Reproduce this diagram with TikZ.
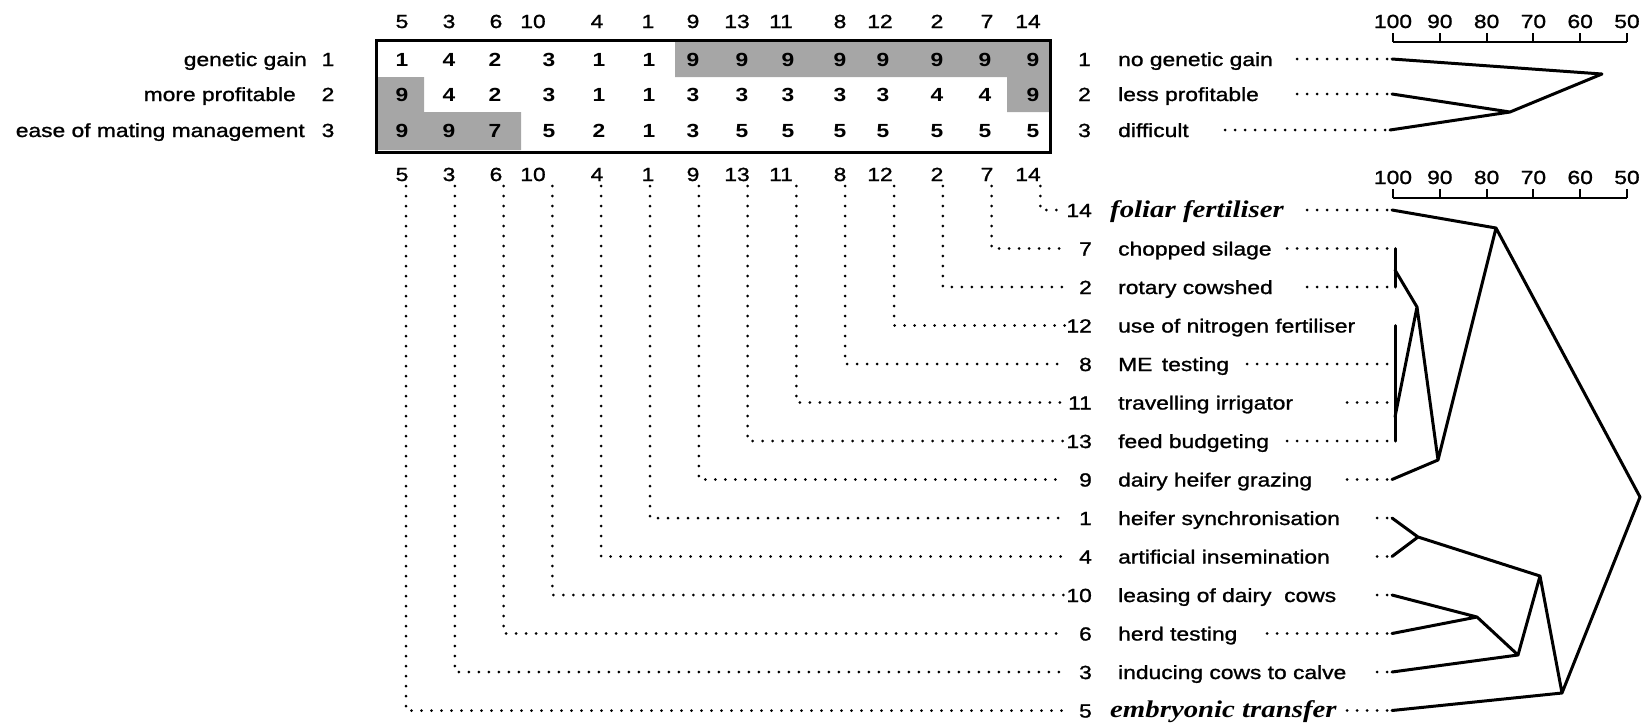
\documentclass[tikz,border=0pt]{standalone}
\usepackage{fontspec}
\setmainfont{Liberation Sans}[FakeStretch=1.2,UprightFeatures={FakeBold=1.2}]
\newfontfamily\tms{Liberation Serif}[FakeStretch=1.2]
\newcommand\bigit{\tms\bfseries\itshape\fontsize{24}{28}\selectfont\kern-8pt}
\begin{document}
\begin{tikzpicture}[x=1pt,y=-1pt,font=\fontsize{19}{23}\selectfont,
	every node/.style={inner sep=0pt,text height=14pt,text depth=0pt},
	num/.style={anchor=east,text width=27pt,align=right},
	lab/.style={anchor=west},
	dots/.style={line width=3pt,dash pattern=on 0pt off 10pt,line cap=round},
	tree/.style={line width=3pt,line join=round,line cap=round}]
\useasboundingbox(0,0)rectangle(1650,724);
% shaded cells
\fill[black!35](675,42)rectangle(1050,77)(1007,77)rectangle(1050,112)
	(378,77)rectangle(424,112)(378,112)rectangle(521,150);
\draw[line width=3pt](376,40)rectangle(1050,152);
% column numbers
\foreach \n/\x in {5/402,3/449,6/496,10/533,4/597,1/648,9/693,13/737,11/781,8/840,12/880,2/937,7/987,14/1028}{
	\node(t\n)at(\x,21){\n};
	\node(b\n)at(\x,174){\n};
}
\def\cx{{402,449,495,549,599,649,693,742,788,840,883,937,985,1033}}
\foreach \r/\y/\vals in {1/59/{1,4,2,3,1,1,9,9,9,9,9,9,9,9},2/94/{9,4,2,3,1,1,3,3,3,3,3,4,4,9},3/130/{9,9,7,5,2,1,3,5,5,5,5,5,5,5}}
	\foreach \v [count=\c from 0] in \vals {
		\pgfmathsetmacro\x{\cx[\c]}
		\node[font=\fontsize{19}{23}\selectfont\bfseries](c\r\c)at(\x,\y){\v};
	}
% rows
\node[anchor=east](g1)at(307,59){genetic gain};
\node[anchor=east](g2)at(296,94){more profitable};
\node[anchor=east](g3)at(305,130){ease of mating management};
\foreach \r/\y in {1/59,2/94,3/130}{
	\node(rl\r)at(328,\y){\r};
	\node[num](rr\r)at(1091,\y){\r};
}
\node[lab](q1)at(1118,59){no genetic gain};
\node[lab](q2)at(1118,94){less profitable};
\node[lab](q3)at(1118,130){difficult};
% similarity scales
\foreach \y/\k in {42/a,198/b}{
	\draw[line width=2pt](1393,\y)--(1627,\y);
	\foreach \s in {100,90,...,50}{
		\draw[line width=2pt]({1393+(100-\s)*4.68},\y)--++(0,-9);
		\node(\k\s)at({1393+(100-\s)*4.68},\y-21){\s};
	}
}
% top dendrogram
\coordinate(a1)at(1392,59);\coordinate(a2)at(1392,94);\coordinate(a3)at(1390,130);
\coordinate(j1)at(1510,112);\coordinate(j0)at(1602,74);
\draw[tree](a2)--(j1)--(a3)(j1)--(j0)--(a1);
\foreach \r/\d in {1/11,2/11,3/18}\draw[dots]([xshift=-5pt]a\r)--++({-10*(\d-1)},0);
% items
\foreach \n/\t/\d [count=\i from 0] in {14/{\bigit foliar fertiliser}/10,7/chopped silage/12,2/rotary cowshed/10,
	12/use of nitrogen fertiliser/0,8/ME\enspace testing/16,11/travelling irrigator/6,13/feed budgeting/12,
	9/dairy heifer grazing/5,1/heifer synchronisation/2,4/artificial insemination/3,10/leasing of dairy\ \ cows/3,
	6/herd testing/14,3/inducing cows to calve/2,5/{\bigit embryonic transfer}/5}{
	\pgfmathsetmacro\y{210+38.5*\i}
	\pgfmathsetmacro\vx{406+48.8*(13-\i)}
	\node[num](m\n)at(1092,\y){\n};
	\node[lab](p\n)at(1118,\y){\t};
	\coordinate(v\n)at(\vx,186);
	\coordinate(l\n)at(1392,\y);
	\draw[dots](v\n)|-(m\n.west);
	\ifnum\d>0 \draw[dots]([xshift=-5pt]l\n)--++({-10*(\d-1)},0);\fi
}
% bottom dendrogram
\coordinate(k1)at(1395,270);\coordinate(k2)at(1395,417);
\coordinate(ja)at(1417,307);\coordinate(jb)at(1438,460);\coordinate(jf)at(1496,228);
\coordinate(jr)at(1640,497);\coordinate(jc)at(1418,537);\coordinate(jd)at(1477,617);
\coordinate(je)at(1518,655);\coordinate(jg)at(1540,576);\coordinate(jh)at(1562,693);
\draw[tree]([xshift=3pt]l7)--([xshift=3pt]l2)([xshift=3pt]l12)--([xshift=3pt]l13);
\draw[tree](k1)--(ja)--(k2)(ja)--(jb)--(l9)(jb)--(jf)--(l14)(jf)--(jr)--(jh)--(l5)
	(jh)--(jg)--(jc)--(l1)(jc)--(l4)(jg)--(je)--(l3)(je)--(jd)--(l10)(jd)--(l6);
\end{tikzpicture}
\end{document}
